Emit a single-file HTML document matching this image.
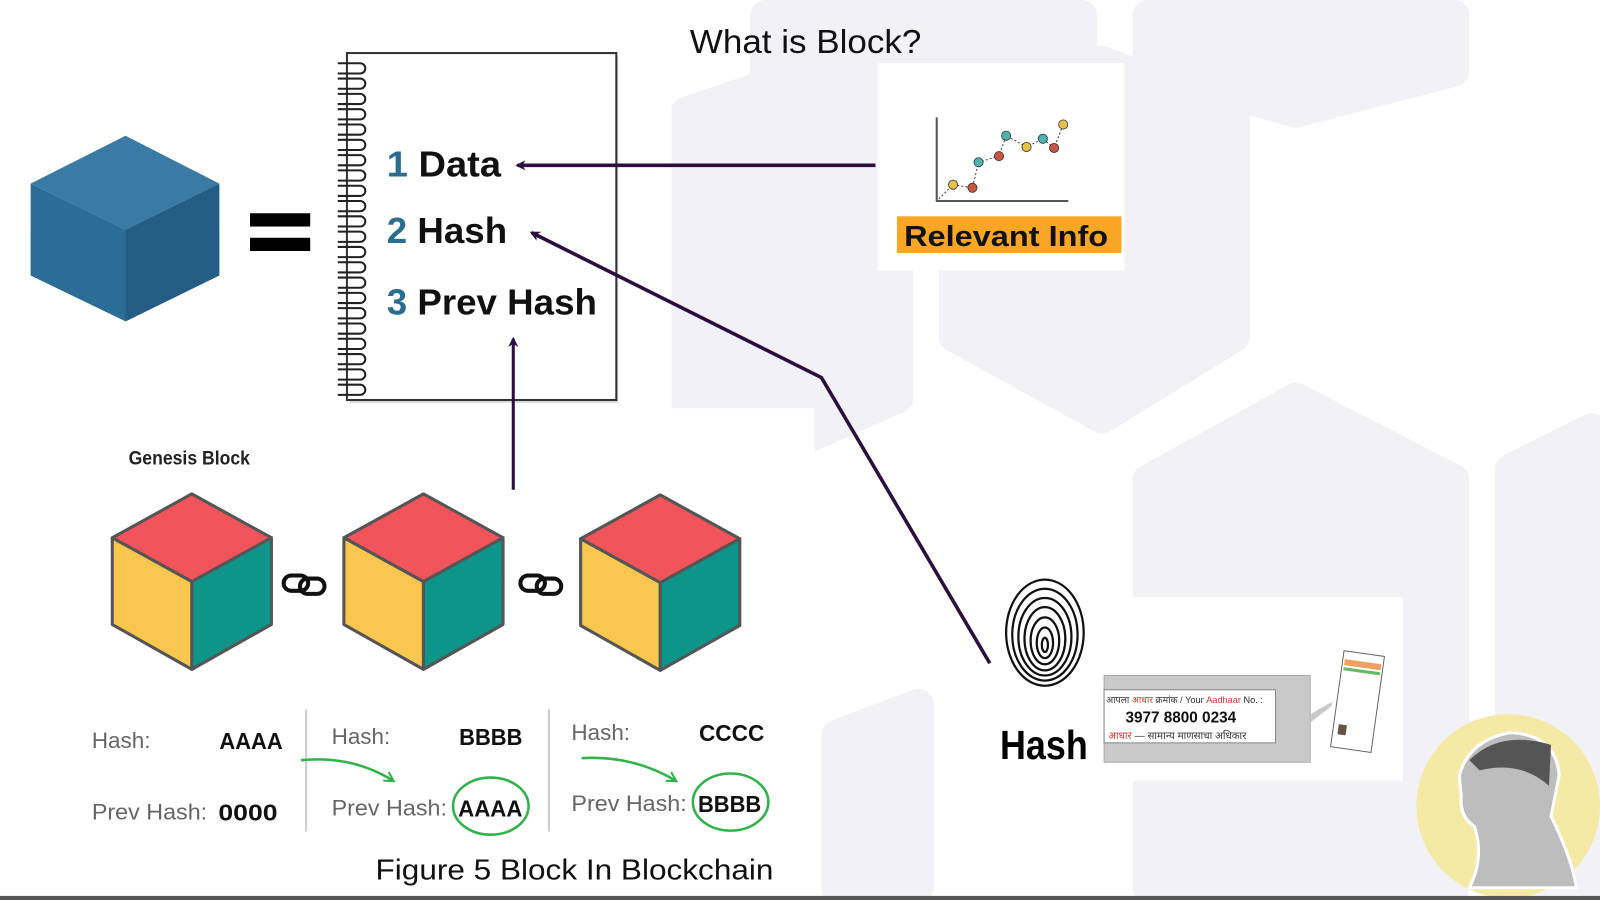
<!DOCTYPE html>
<html><head><meta charset="utf-8"><style>
html,body{margin:0;padding:0;background:#fff;width:1600px;height:900px;overflow:hidden}
svg{display:block}
text{font-family:"Liberation Sans",sans-serif}
</style></head><body>
<svg width="1600" height="900" viewBox="0 0 1568 882" preserveAspectRatio="none" xmlns="http://www.w3.org/2000/svg">
<defs>
<marker id="ah" markerWidth="10" markerHeight="10" refX="8" refY="5" orient="auto" markerUnits="userSpaceOnUse"><path d="M0,0 L10,5 L0,10 L3,5 z" fill="#2a0f40"/></marker>
<marker id="ag" markerWidth="12" markerHeight="12" refX="9" refY="6" orient="auto" markerUnits="userSpaceOnUse"><path d="M1,1 L10,6 L1,11" fill="none" stroke="#2fb34a" stroke-width="2"/></marker>
</defs>
<rect width="1568" height="882" fill="#fff"/>
<g fill="#f2f2f6" stroke="#f2f2f6" stroke-linejoin="round" stroke-width="30">
<polygon points="750,15 1060,15 1060,130 1000,180 810,180 750,130"/>
<polygon points="1125,15 1425,15 1425,70 1270,110 1125,70"/>
<polygon points="672,110 760,80 880,140 880,390 790,430 672,430"/>
<polygon points="935,100 1080,60 1210,110 1210,330 1080,410 935,330"/>
<polygon points="1125,470 1270,390 1425,470 1425,870 1125,870"/>
<polygon points="1480,460 1560,420 1560,870 1480,870"/>
<polygon points="820,720 900,690 900,870 820,870"/>
</g>
<rect x="0" y="400" width="798" height="445" fill="#fff"/>
<rect x="0" y="0" width="658" height="400" fill="#fff"/>
<rect x="860" y="62" width="242" height="203" fill="#fff"/>
<rect x="975" y="585" width="400" height="180" fill="#fff"/>

<text x="676" y="52" font-size="33" fill="#111" textLength="227" lengthAdjust="spacingAndGlyphs">What is Block?</text>

<polygon points="123,133 215,180 123,225 30,180" fill="#3b7aa5"/>
<polygon points="30,180 123,225 123,315 30,270" fill="#2c6d98"/>
<polygon points="215,180 123,225 123,315 215,270" fill="#235c84"/>
<rect x="245" y="209" width="59" height="13" fill="#000"/>
<rect x="245" y="233" width="59" height="13" fill="#000"/>

<rect x="343" y="55" width="263" height="340" fill="#ddd"/>
<rect x="340" y="52" width="264" height="340" fill="#fff" stroke="#333" stroke-width="2"/>
<g fill="none" stroke="#222" stroke-width="2">
<path d="M331,62h22a5,5 0 0 1 0,10h-22M331,77h22a5,5 0 0 1 0,10h-22M331,92h22a5,5 0 0 1 0,10h-22M331,107h22a5,5 0 0 1 0,10h-22M331,122h22a5,5 0 0 1 0,10h-22M331,137h22a5,5 0 0 1 0,10h-22M331,152h22a5,5 0 0 1 0,10h-22M331,167h22a5,5 0 0 1 0,10h-22M331,182h22a5,5 0 0 1 0,10h-22M331,197h22a5,5 0 0 1 0,10h-22M331,212h22a5,5 0 0 1 0,10h-22M331,227h22a5,5 0 0 1 0,10h-22M331,242h22a5,5 0 0 1 0,10h-22M331,257h22a5,5 0 0 1 0,10h-22M331,272h22a5,5 0 0 1 0,10h-22M331,287h22a5,5 0 0 1 0,10h-22M331,302h22a5,5 0 0 1 0,10h-22M331,317h22a5,5 0 0 1 0,10h-22M331,332h22a5,5 0 0 1 0,10h-22M331,347h22a5,5 0 0 1 0,10h-22M331,362h22a5,5 0 0 1 0,10h-22M331,377h22a5,5 0 0 1 0,10h-22"/>
</g>
<g font-size="35" font-weight="bold" fill="#111">
<text x="379" y="173" textLength="112" lengthAdjust="spacingAndGlyphs"><tspan fill="#2a6d8e">1</tspan> Data</text>
<text x="379" y="238" textLength="118" lengthAdjust="spacingAndGlyphs"><tspan fill="#2a6d8e">2</tspan> Hash</text>
<text x="379" y="308" textLength="206" lengthAdjust="spacingAndGlyphs"><tspan fill="#2a6d8e">3</tspan> Prev Hash</text>
</g>

<g stroke="#2a0f40" stroke-width="3.5" fill="none">
<line x1="858" y1="162" x2="507" y2="162" marker-end="url(#ah)"/>
<polyline points="970,650 805,370 521,228" marker-end="url(#ah)"/>
<line x1="503" y1="480" x2="503" y2="332" stroke-width="3" marker-end="url(#ah)"/>
</g>

<polyline points="918,115 918,197 1047,197" fill="none" stroke="#555" stroke-width="2"/>
<polyline points="920,195 934,181 953,184 959,159 979,153 986,133 1006,144 1022,136 1033,145 1042,122" fill="none" stroke="#444" stroke-width="1" stroke-dasharray="2,2"/>
<g stroke="#333" stroke-width="0.8">
<circle cx="934" cy="181" r="4.5" fill="#e6c04a"/><circle cx="953" cy="184" r="4.5" fill="#c9553f"/>
<circle cx="959" cy="159" r="4.5" fill="#4fb3b0"/><circle cx="979" cy="153" r="4.5" fill="#c9553f"/>
<circle cx="986" cy="133" r="4.5" fill="#4fb3b0"/><circle cx="1006" cy="144" r="4.5" fill="#e6c04a"/>
<circle cx="1022" cy="136" r="4.5" fill="#4fb3b0"/><circle cx="1033" cy="145" r="4.5" fill="#c9553f"/>
<circle cx="1042" cy="122" r="4.5" fill="#e6c04a"/>
</g>
<rect x="879" y="212" width="220" height="36" fill="#f8a623"/>
<text x="886" y="241" font-size="28" font-weight="bold" fill="#111" textLength="200" lengthAdjust="spacingAndGlyphs">Relevant Info</text>

<text x="126" y="455" font-size="19" font-weight="bold" fill="#222" textLength="119" lengthAdjust="spacingAndGlyphs">Genesis Block</text>
<g stroke="#555" stroke-width="3" stroke-linejoin="round">
<g>
<polygon points="188,484 266,527 188,570 110,527" fill="#f2545b"/>
<polygon points="110,527 188,570 188,656 110,612" fill="#f9c74f"/>
<polygon points="266,527 188,570 188,656 266,612" fill="#0e958a"/>
</g>
<g transform="translate(227 0)">
<polygon points="188,484 266,527 188,570 110,527" fill="#f2545b"/>
<polygon points="110,527 188,570 188,656 110,612" fill="#f9c74f"/>
<polygon points="266,527 188,570 188,656 266,612" fill="#0e958a"/>
</g>
<g transform="translate(459 1)">
<polygon points="188,484 266,527 188,570 110,527" fill="#f2545b"/>
<polygon points="110,527 188,570 188,656 110,612" fill="#f9c74f"/>
<polygon points="266,527 188,570 188,656 266,612" fill="#0e958a"/>
</g>
</g>
<g fill="none" stroke="#111" stroke-width="4">
<rect x="278" y="564" width="24" height="15" rx="7.5"/><rect x="294" y="567" width="24" height="15" rx="7.5"/>
<rect x="510" y="564" width="24" height="15" rx="7.5"/><rect x="526" y="567" width="24" height="15" rx="7.5"/>
</g>

<g font-size="22" fill="#666">
<text x="90" y="733">Hash:</text><text x="90" y="803" textLength="113" lengthAdjust="spacingAndGlyphs">Prev Hash:</text>
<text x="325" y="729">Hash:</text><text x="325" y="799" textLength="113" lengthAdjust="spacingAndGlyphs">Prev Hash:</text>
<text x="560" y="725">Hash:</text><text x="560" y="795" textLength="113" lengthAdjust="spacingAndGlyphs">Prev Hash:</text>
</g>
<g font-size="23" font-weight="bold" fill="#111">
<text x="215" y="734" textLength="62" lengthAdjust="spacingAndGlyphs">AAAA</text><text x="214" y="804" textLength="58" lengthAdjust="spacingAndGlyphs">0000</text>
<text x="450" y="730" textLength="62" lengthAdjust="spacingAndGlyphs">BBBB</text><text x="449" y="800" textLength="63" lengthAdjust="spacingAndGlyphs">AAAA</text>
<text x="685" y="726" textLength="64" lengthAdjust="spacingAndGlyphs">CCCC</text><text x="684" y="796" textLength="62" lengthAdjust="spacingAndGlyphs">BBBB</text>
</g>
<g stroke="#ccc" stroke-width="2"><line x1="300" y1="695" x2="300" y2="815"/><line x1="538" y1="695" x2="538" y2="815"/></g>
<g fill="none" stroke="#2fb34a" stroke-width="2.5">
<path d="M295,745 Q345,740 385,765" marker-end="url(#ag)"/>
<path d="M570,743 Q620,740 662,765" marker-end="url(#ag)"/>
<ellipse cx="481" cy="790" rx="37" ry="28"/>
<ellipse cx="716" cy="786" rx="37" ry="28"/>
</g>
<text x="368" y="862" font-size="28" fill="#111" textLength="390" lengthAdjust="spacingAndGlyphs">Figure 5  Block In Blockchain</text>

<g fill="none" stroke="#111" stroke-width="2.2">
<ellipse cx="1024" cy="620" rx="38" ry="52"/>
<ellipse cx="1024" cy="622" rx="32" ry="45"/>
<ellipse cx="1024" cy="624" rx="26" ry="38"/>
<ellipse cx="1024" cy="626" rx="20" ry="31"/>
<ellipse cx="1024" cy="628" rx="14" ry="23"/>
<ellipse cx="1024" cy="630" rx="8" ry="15"/>
<ellipse cx="1024" cy="632" rx="3" ry="7"/>
</g>
<text x="980" y="744" font-size="40" font-weight="bold" fill="#000" textLength="86" lengthAdjust="spacingAndGlyphs">Hash</text>

<rect x="1082" y="662" width="202" height="85" fill="#c9c9c9" stroke="#aaa"/>
<path d="M1284,700 L1305,688 L1305,692 L1284,708z" fill="#c9c9c9"/>
<rect x="1082" y="676" width="168" height="52" fill="#fff" stroke="#888"/>
<text x="1084" y="689" font-size="9" fill="#333">आपला <tspan fill="#d33">आधार</tspan> क्रमांक / Your <tspan fill="#d33">Aadhaar</tspan> No. :</text>
<text x="1103" y="708" font-size="15" font-weight="bold" fill="#111">3977 8800 0234</text>
<text x="1086" y="724" font-size="10" fill="#333"><tspan fill="#d33">आधार</tspan> — सामान्य माणसाचा अधिकार</text>
<g transform="rotate(8 1330 690)">
<rect x="1310" y="640" width="40" height="95" fill="#fff" stroke="#666"/>
<rect x="1312" y="648" width="36" height="6" fill="#f0a060"/>
<rect x="1312" y="656" width="36" height="3" fill="#6b6"/>
<rect x="1315" y="712" width="8" height="10" fill="#654"/>
</g>

<circle cx="1478" cy="790" r="90" fill="#f5e9a6"/>
<path d="M1430,760 Q1440,725 1480,718 Q1525,720 1528,760 L1520,800 Q1540,840 1545,870 L1440,870 Q1455,840 1445,810 Q1430,800 1432,780z" fill="#bdbdbd" stroke="#fff" stroke-width="3"/>
<path d="M1440,745 Q1470,715 1520,730 L1518,770 Q1490,745 1450,755z" fill="#555"/>

<rect x="0" y="878" width="1568" height="4" fill="#555"/>
</svg>
</body></html>
